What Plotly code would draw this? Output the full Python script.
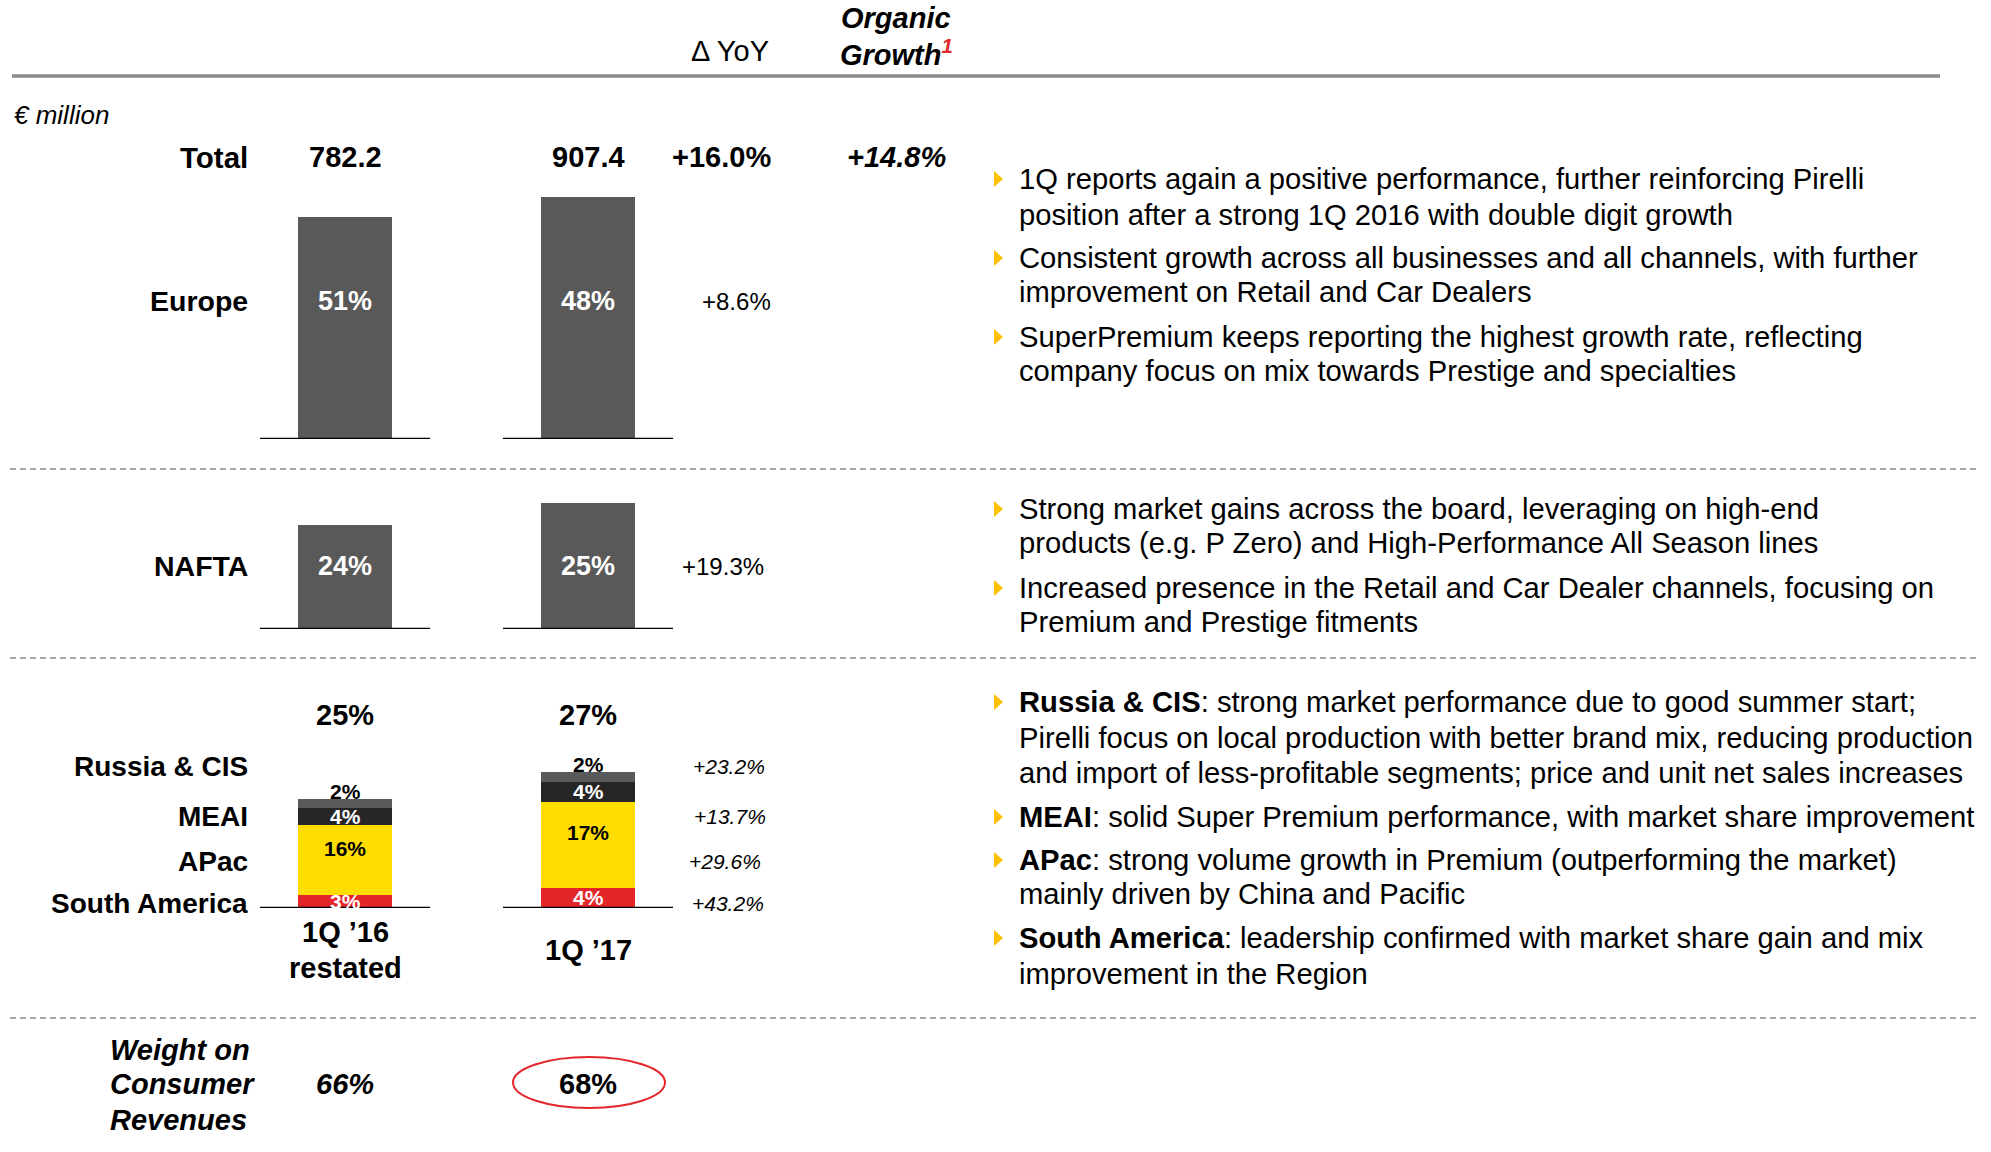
import plotly.graph_objects as go

# ---------------- data ----------------
periods = ["1Q ’16<br>restated", "1Q ’17"]
totals = [782.2, 907.4]
total_yoy = "+16.0%"
total_organic = "+14.8%"

europe_share = [51, 48]
europe_yoy = "+8.6%"
nafta_share = [24, 25]
nafta_yoy = "+19.3%"
others_share = [25, 27]

stack_regions = ["South America", "APac", "MEAI", "Russia & CIS"]
south_america_share = [3, 4]
apac_share = [16, 17]
meai_share = [4, 4]
russia_share = [2, 2]
stack_yoy = ["+43.2%", "+29.6%", "+13.7%", "+23.2%"]

weight_consumer = [66, 68]

bullets_europe = [
    ["1Q reports again a positive performance, further reinforcing Pirelli",
     "position after a strong 1Q 2016 with double digit growth"],
    ["Consistent growth across all businesses and all channels, with further",
     "improvement on Retail and Car Dealers"],
    ["SuperPremium keeps reporting the highest growth rate, reflecting",
     "company focus on mix towards Prestige and specialties"],
]
bullets_nafta = [
    ["Strong market gains across the board, leveraging on high-end",
     "products (e.g. P Zero) and High-Performance All Season lines"],
    ["Increased presence in the Retail and Car Dealer channels, focusing on",
     "Premium and Prestige fitments"],
]
bullets_others = [
    ["<b>Russia & CIS</b>: strong market performance due to good summer start;",
     "Pirelli focus on local production with better brand mix, reducing production",
     "and import of less-profitable segments; price and unit net sales increases"],
    ["<b>MEAI</b>: solid Super Premium performance, with market share improvement"],
    ["<b>APac</b>: strong volume growth in Premium (outperforming the market)",
     "mainly driven by China and Pacific"],
    ["<b>South America</b>: leadership confirmed with market share gain and mix",
     "improvement in the Region"],
]

# ---------------- layout helpers ----------------
OFF = 0  # page margin removed via post_script
W, H = 1991, 1152
FONT = "Liberation Sans, Arial, sans-serif"
DARK = "#595959"
BLACK_SEG = "#262626"
YELLOW = "#FFDD00"
RED = "#E3262A"
AMBER = "#FFC000"
GRID = "#8C8C8C"

def px(x):
    return (x - OFF) / W

def py(y):
    return 1 - (y - OFF) / H

vals = lambda shares: [s / 100 * t for s, t in zip(shares, totals)]
europe_v = vals(europe_share)
nafta_v = vals(nafta_share)
sa_v = vals(south_america_share)
apac_v = vals(apac_share)
meai_v = vals(meai_share)
rus_v = vals(russia_share)

S = 0.556  # pixels per EUR million
xs = [0, 1]
BAR_W = 0.39

fig = go.Figure()
fig.add_trace(go.Bar(x=xs, y=europe_v, width=BAR_W, marker=dict(color=DARK, line=dict(width=0)),
                     xaxis="x", yaxis="y", hoverinfo="skip"))
fig.add_trace(go.Bar(x=xs, y=nafta_v, width=BAR_W, marker=dict(color=DARK, line=dict(width=0)),
                     xaxis="x", yaxis="y2", hoverinfo="skip"))
stack_vals = [sa_v, apac_v, meai_v, rus_v]
stack_colors = [RED, YELLOW, BLACK_SEG, DARK]
for v, c in zip(stack_vals, stack_colors):
    fig.add_trace(go.Bar(x=xs, y=v, width=BAR_W, marker=dict(color=c, line=dict(width=0)),
                         xaxis="x", yaxis="y3", hoverinfo="skip"))

ann = []

def text(x, y, t, size=29, bold=False, italic=False, color="black", xanchor="center",
         xref="paper", yref="paper", yshift=0, yanchor="middle"):
    s = t
    if bold:
        s = "<b>" + s + "</b>"
    if italic:
        s = "<i>" + s + "</i>"
    ann.append(dict(x=x if xref != "paper" else px(x), y=y if yref != "paper" else py(y),
                    xref=xref, yref=yref, text=s, showarrow=False, xanchor=xanchor,
                    yanchor=yanchor, yshift=yshift,
                    font=dict(family=FONT, size=size, color=color)))

# header
text(730, 51, "Δ YoY", size=29)
text(896, 0, "Organic", size=29, bold=True, italic=True, yanchor="top")
text(896, 53, "Growth<sup><span style='color:#E3262A'>1</span></sup>", size=29, bold=True, italic=True)
text(12, 115, "€ million", size=26, italic=True, xanchor="left")

# total row
text(250, 157, "Total", size=29.5, bold=True, xanchor="right")
for i, t in enumerate(totals):
    text(i, 157, f"{t:.1f}", bold=True, xref="x")
text(721, 157, total_yoy, bold=True)
text(896, 157, total_organic, bold=True, italic=True)

# Europe row
text(250, 301, "Europe", size=28.5, bold=True, xanchor="right")
for i, s in enumerate(europe_share):
    text(i, 301, f"{s}%", size=27, bold=True, color="white", xref="x")
text(736, 301, europe_yoy, size=24)

# NAFTA row
text(250, 566, "NAFTA", size=28.5, bold=True, xanchor="right")
for i, s in enumerate(nafta_share):
    text(i, 566, f"{s}%", size=27, bold=True, color="white", xref="x")
text(723, 566, nafta_yoy, size=24)

# Others
for i, s in enumerate(others_share):
    text(i, 715, f"{s}%", bold=True, xref="x")
label_y = {"Russia & CIS": 766, "MEAI": 816, "APac": 861, "South America": 903}
delta_x = {"Russia & CIS": 729, "MEAI": 730, "APac": 725, "South America": 728}
for name, d in zip(stack_regions, stack_yoy):
    text(250, label_y[name], name, size=28, bold=True, xanchor="right")
    text(delta_x[name], label_y[name], d, size=21, italic=True)

seg_font_col = ["white", "black", "white", "black"]
seg_shift = [0, 12, 0, 12]
shares_list = [south_america_share, apac_share, meai_share, russia_share]
for i in range(2):
    base = 0
    for k in range(4):
        v = stack_vals[k][i]
        text(i, base + v / 2, f"{shares_list[k][i]}%", size=21, bold=True,
             color=seg_font_col[k], xref="x", yref="y3", yshift=seg_shift[k])
        base += v

# period labels
text(0, 932, "1Q ’16", bold=True, xref="x")
text(0, 968, "restated", bold=True, xref="x")
text(1, 950, "1Q ’17", bold=True, xref="x")

# weight on consumer revenues
for yy, t in zip([1050, 1084, 1120], ["Weight on", "Consumer", "Revenues"]):
    text(108, yy, t, bold=True, italic=True, xanchor="left")
text(0, 1084, f"{weight_consumer[0]}%", bold=True, italic=True, xref="x")
text(1, 1084, f"{weight_consumer[1]}%", bold=True, xref="x")

# bullets
shapes = []

def tri(cy):
    x0 = 994
    d = f"M {px(x0)},{py(cy-8)} L {px(x0+9)},{py(cy)} L {px(x0)},{py(cy+8)} Z"
    shapes.append(dict(type="path", xref="paper", yref="paper", path=d,
                       fillcolor=AMBER, line=dict(width=0)))

def bullet_block(bullets, ys):
    j = 0
    for b in bullets:
        tri(ys[j])
        for line in b:
            text(1017, ys[j], line, size=29.2, xanchor="left")
            j += 1

bullet_block(bullets_europe, [179, 215, 258, 292, 337, 371])
bullet_block(bullets_nafta, [509, 543, 588, 622])
bullet_block(bullets_others, [702, 738, 773, 817, 860, 894, 938, 974])

# lines
shapes.append(dict(type="line", xref="paper", yref="paper", x0=px(12), x1=px(1940),
                   y0=py(76), y1=py(76), line=dict(color=GRID, width=3.5)))
for yy in [469, 658, 1018]:
    shapes.append(dict(type="line", xref="paper", yref="paper", x0=px(10), x1=px(1980),
                       y0=py(yy), y1=py(yy), line=dict(color=GRID, width=1.5, dash="6px,4px")))
for ax in ["y", "y2", "y3"]:
    for i in xs:
        shapes.append(dict(type="line", xref="x", yref=ax, x0=i - 0.35, x1=i + 0.35,
                           y0=0, y1=0, line=dict(color="black", width=2.5)))
shapes.append(dict(type="circle", xref="paper", yref="paper", x0=px(513), x1=px(665),
                   y0=py(1108), y1=py(1057), line=dict(color=RED, width=2)))

# axes
XL, XR = 250, 690
c0 = 345
unit = 243
xr = [(XL - c0) / unit, (XR - c0) / unit]

def ydom(bottom, top):
    return [py(bottom), py(top)], [0, (bottom - top) / S]

d1, r1 = ydom(439, 170)
d2, r2 = ydom(629, 490)
d3, r3 = ydom(908, 760)

ax_common = dict(visible=False, fixedrange=True, showgrid=False, zeroline=False)
fig.update_layout(
    width=W, height=H, margin=dict(l=0, r=0, t=0, b=0),
    paper_bgcolor="white", plot_bgcolor="rgba(0,0,0,0)",
    showlegend=False, barmode="stack", bargap=0,
    xaxis=dict(domain=[px(XL), px(XR)], range=xr, **ax_common),
    yaxis=dict(domain=d1, range=r1, anchor="x", **ax_common),
    yaxis2=dict(domain=d2, range=r2, anchor="x", **ax_common),
    yaxis3=dict(domain=d3, range=r3, anchor="x", **ax_common),
    annotations=ann, shapes=shapes,
    font=dict(family=FONT),
)

fig.write_html("out.html", config={"displayModeBar": False},
               post_script="document.body.style.margin='0';document.body.style.overflow='hidden';")
